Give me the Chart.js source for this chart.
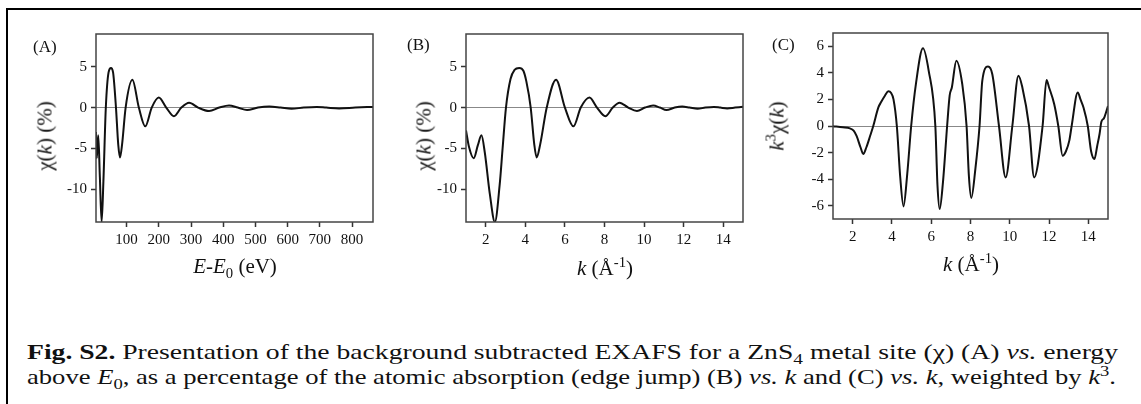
<!DOCTYPE html>
<html>
<head>
<meta charset="utf-8">
<script src="https://cdn.jsdelivr.net/npm/chart.js@4.4.1/dist/chart.umd.min.js"></script>
<style>
body { margin: 0; background: #fff; width: 1141px; height: 404px; overflow: hidden; position: relative;
       font-family: "Liberation Serif", Tinos, "Times New Roman", Times, "Nimbus Roman", FreeSerif, serif; color: #111; }
.frame { position: absolute; left: 6px; top: 8px; width: 1200px; height: 500px;
         border-left: 2px solid #000; border-top: 2px solid #000; }
.box { position: absolute; }
.lbl { position: absolute; font-size: 17px; white-space: nowrap; }
.xt { position: absolute; font-size: 21px; white-space: nowrap; transform: translateX(-50%); }
.yt { position: absolute; font-size: 21px; white-space: nowrap; transform: translate(-50%, -50%) rotate(-90deg); }
.cap { position: absolute; left: 27px; font-size: 21px; line-height: 25px; white-space: nowrap; transform-origin: left center; }
sub, sup { font-size: 70%; line-height: 0; }
</style>
</head>
<body>
<div class="frame"></div>

<div class="box" style="left:10px;top:20px"><canvas id="chartA" width="370" height="270"></canvas></div>
<div class="box" style="left:380px;top:20px"><canvas id="chartB" width="370" height="270"></canvas></div>
<div class="box" style="left:750px;top:20px"><canvas id="chartC" width="391" height="270"></canvas></div>

<div class="lbl" style="left:33px;top:37px">(A)</div>
<div class="lbl" style="left:407px;top:35px">(B)</div>
<div class="lbl" style="left:772px;top:35px">(C)</div>

<div class="yt" style="left:45px;top:136px">χ(<i>k</i>) (%)</div>
<div class="yt" style="left:424px;top:136px">χ(<i>k</i>) (%)</div>
<div class="yt" style="left:777px;top:126px"><i>k</i><sup>3</sup>χ(<i>k</i>)</div>

<div class="xt" style="left:235px;top:254px"><i>E</i>-<i>E</i><sub>0</sub> (eV)</div>
<div class="xt" style="left:605px;top:256px"><i>k</i> (Å<sup>-1</sup>)</div>
<div class="xt" style="left:971px;top:252px"><i>k</i> (Å<sup>-1</sup>)</div>

<div class="cap" id="cap1" style="top:340px"><b>Fig. S2.</b> Presentation of the background subtracted EXAFS for a ZnS<sub>4</sub> metal site (χ) (A) <i>vs.</i> energy</div>
<div class="cap" id="cap2" style="top:365px">above <i>E</i><sub>0</sub>, as a percentage of the atomic absorption (edge jump) (B) <i>vs.</i> <i>k</i> and (C) <i>vs.</i> <i>k</i>, weighted by <i>k</i><sup>3</sup>.</div>

<script>
// panel A: chi (%) vs energy above E0
const energyA = [5, 7.5, 12, 17, 22.5, 28, 35.5, 44, 51.5, 58, 67, 74, 79.5, 86, 97,
                 118, 138, 158, 178, 200, 223, 247, 270, 294, 322, 356, 388, 418, 445,
                 474, 508, 543, 578, 612, 650, 690, 720, 760, 810, 865];
const chiA = [-3.0, -6.2, -3.4, -8.5, -14.0, -9.0, 0, 4.3, 4.85, 4.3, 0, -4.5, -6.1, -4.5, 0,
              3.4, 0, -2.3, 0, 1.22, 0, -1.06, 0, 0.6, 0, -0.42, 0, 0.25, 0,
              -0.3, 0, 0.12, 0, -0.15, 0, 0.08, 0, -0.1, 0, 0.08];

// panel B: chi (%) vs k
const kB = [1.0, 1.15, 1.39, 1.6, 1.78, 1.95, 2.2, 2.46, 2.7, 2.85, 3.02, 3.25, 3.45, 3.69, 3.9,
            4.05, 4.27, 4.45, 4.57, 4.75, 5.08, 5.55, 6.0, 6.43, 6.8, 7.24, 7.62, 8.04, 8.42,
            8.76, 9.2, 9.64, 10.05, 10.46, 10.8, 11.13, 11.55, 11.93, 12.3, 12.7, 13.1, 13.53,
            13.85, 14.2, 14.6, 15.0];
const chiB = [-2.8, -4.8, -6.2, -4.6, -3.4, -5.5, -10.5, -14.0, -9.5, -5.0, 0, 3.5, 4.6, 4.85, 4.5,
              3.2, 0, -4.5, -6.1, -4.5, 0, 3.41, 0, -2.3, 0, 1.22, 0, -1.06, 0,
              0.6, 0, -0.42, 0, 0.25, 0, -0.3, 0, 0.12, 0, -0.15, 0, 0.08,
              0, -0.1, 0, 0.1];

// panel C: k^3 chi(k) vs k
const kC = [1.0, 1.5, 1.86, 2.05, 2.2, 2.4, 2.54, 2.7, 2.9, 3.05, 3.31, 3.45, 3.65, 3.82, 3.95,
            4.08, 4.25, 4.42, 4.59, 4.78, 4.98, 5.22, 5.58, 5.87, 6.21, 6.32, 6.43, 6.6, 6.81,
            6.94, 7.05, 7.28, 7.58, 7.8, 7.92, 8.04, 8.25, 8.46, 8.6, 8.89, 9.11, 9.45, 9.79,
            10.13, 10.44, 10.64, 10.98, 11.24, 11.67, 11.87, 12.0, 12.26, 12.47, 12.69, 12.86,
            13.03, 13.15, 13.46, 13.6, 13.76, 13.97, 14.14, 14.31, 14.45, 14.57, 14.66, 14.8, 15.0];
const k3chiC = [-0.02, -0.1, -0.18, -0.35, -0.75, -1.6, -2.11, -1.6, -0.7, 0, 1.4, 1.8, 2.3, 2.61, 2.5,
                2.0, 0, -3.8, -6.05, -3.6, 0, 3.16, 5.85, 4.17, 0, -4.5, -6.25, -4.2, 0,
                2.3, 2.9, 4.92, 3.16, 0, -3.8, -5.42, -3.2, 0, 3.4, 4.47, 3.9, 0, -3.87,
                0, 3.79, 2.9, 0, -3.87, 0, 3.47, 2.9, 1.66, 0, -2.24, -1.9,
                -1.1, 0, 2.53, 2.0, 1.36, 0, -1.9, -2.49, -1.5, -0.6, 0.3, 0.6, 1.5];

// tick labels
const xTicksA = [100, 200, 300, 400, 500, 600, 700, 800];
const xTicksK = [2, 4, 6, 8, 10, 12, 14];
const yTicksChi = [-10, -5, 0, 5];
const yTicksC = [-6, -4, -2, 0, 2, 4, 6];

// frame round the plot area
const framePlugin = {
  id: 'frame',
  afterDraw(chart) {
    const a = chart.chartArea, c = chart.ctx;
    c.save();
    c.strokeStyle = '#444';
    c.lineWidth = 1.5;
    c.strokeRect(a.left, a.top, a.right - a.left, a.bottom - a.top);
    c.restore();
  }
};

const tickFont = { family: '"Liberation Serif", Tinos, "Times New Roman", Times, serif', size: 15 };

function makeChart(id, xs, ys, xr, yr, xTicks, yTicks, yW, xH, pad) {
  return new Chart(document.getElementById(id), {
    type: 'line',
    data: {
      datasets: [{
        data: xs.map((x, i) => ({ x: x, y: ys[i] })),
        borderColor: '#111',
        borderWidth: 2,
        pointRadius: 0,
        cubicInterpolationMode: 'monotone',
        fill: false
      }]
    },
    options: {
      responsive: false,
      animation: false,
      devicePixelRatio: 1,
      events: [],
      layout: { padding: pad },
      plugins: { legend: { display: false }, tooltip: { enabled: false } },
      scales: {
        x: {
          type: 'linear', min: xr[0], max: xr[1],
          border: { display: false },
          grid: { drawOnChartArea: false, drawTicks: true, tickLength: 5, tickColor: '#333', tickWidth: 1.5 },
          ticks: { font: tickFont, color: '#111', padding: 4, maxRotation: 0, callback: v => String(v) },
          afterBuildTicks: ax => { ax.ticks = xTicks.map(v => ({ value: v })); },
          afterFit: ax => { ax.height = xH; }
        },
        y: {
          min: yr[0], max: yr[1],
          border: { display: false },
          grid: {
            color: c => (c.tick && c.tick.value === 0) ? '#888' : 'rgba(0,0,0,0)',
            lineWidth: 1,
            drawTicks: true, tickLength: 5, tickColor: '#333', tickWidth: 1.5
          },
          ticks: { font: tickFont, color: '#111', padding: 4, callback: v => String(v) },
          afterBuildTicks: ax => { ax.ticks = yTicks.map(v => ({ value: v })); },
          afterFit: ax => { ax.width = yW; }
        }
      }
    },
    plugins: [framePlugin]
  });
}

makeChart('chartA', energyA, chiA, [5, 865], [-14, 9], xTicksA, yTicksChi, 86, 68, { top: 14, right: 7 });
makeChart('chartB', kB, chiB, [1, 15], [-14, 9], xTicksK, yTicksChi, 86, 68, { top: 14, right: 7 });
makeChart('chartC', kC, k3chiC, [1, 15], [-7, 7], xTicksK, yTicksC, 83, 71, { top: 13, right: 33 });

// stretch caption lines to the full text width, as in the figure
function fitCaption(id, target) {
  const el = document.getElementById(id);
  const w = el.getBoundingClientRect().width;
  el.style.transform = 'scaleX(' + (target / w) + ')';
}
fitCaption('cap1', 1091);
fitCaption('cap2', 1089);
</script>
</body>
</html>
